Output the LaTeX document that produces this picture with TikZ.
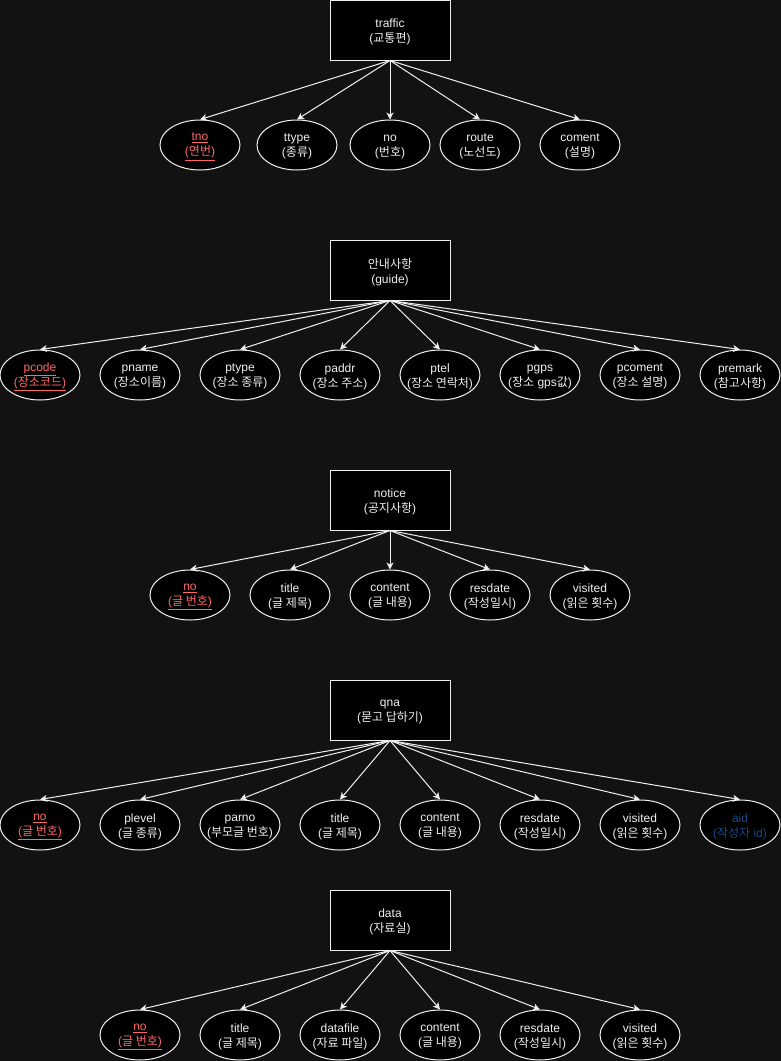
\documentclass[tikz,border=0pt]{standalone}
\usepackage{fontspec}
\setmainfont{Liberation Sans}
\newfontfamily\kr{Noto Sans CJK KR}
\usetikzlibrary{shapes.geometric,arrows.meta}
\newcommand\kt[1]{{\kr #1}}
\definecolor{bgc}{RGB}{18,18,18}
\definecolor{fgc}{RGB}{240,240,240}
\definecolor{keyc}{RGB}{255,102,102}
\definecolor{idc}{RGB}{24,72,130}
\newcommand\keytxt[2]{\underline{#1}\\\underline{(\kt{#2})}}
\begin{document}
\begin{tikzpicture}[x=1pt,y=-1pt,
  every node/.style={font=\fontsize{12}{15}\selectfont, text=fgc},
  entity/.style={draw=fgc, fill=black, line width=1pt, minimum width=120pt, minimum height=60pt, inner sep=0pt},
  attr/.style={ellipse, draw=fgc, fill=black, line width=1pt, minimum width=80pt, minimum height=50pt, inner sep=0pt},
  atxt/.style={align=center, inner sep=0pt, yshift=-1.8pt},
  ktxt/.style={atxt, text=keyc},
  link/.style={draw=fgc, line width=1pt, -{Stealth[length=7pt,width=7pt,inset=2pt]}}]
\useasboundingbox (0,0) rectangle (781,1061);
\fill[bgc] (0,0) rectangle (781,1061);

% ---------- traffic ----------
\node[entity,label={[atxt]center:traffic\\(\kt{교통편})}] (traffic) at (390,30) {};
\node[attr,label={[ktxt]center:\keytxt{tno}{연번}}] (t1) at (200,145) {};
\node[attr,label={[atxt]center:ttype\\(\kt{종류})}] (t2) at (297,145) {};
\node[attr,label={[atxt]center:no\\(\kt{번호})}] (t3) at (390,145) {};
\node[attr,label={[atxt]center:route\\(\kt{노선도})}] (t4) at (480,145) {};
\node[attr,label={[atxt]center:coment\\(\kt{설명})}] (t5) at (580,145) {};
\foreach \a in {t1,t2,t3,t4,t5} \draw[link] (traffic.south) -- (\a.north);

% ---------- guide ----------
\node[entity,label={[atxt]center:\kt{안내사항}\\(guide)}] (guide) at (390,270) {};
\node[attr,label={[ktxt]center:\keytxt{pcode}{장소코드}}] (g1) at (40,375) {};
\node[attr,label={[atxt]center:pname\\(\kt{장소이름})}] (g2) at (140,375) {};
\node[attr,label={[atxt]center:ptype\\(\kt{장소 종류})}] (g3) at (240,375) {};
\node[attr,label={[atxt]center:paddr\\(\kt{장소 주소})}] (g4) at (340,375) {};
\node[attr,label={[atxt]center:ptel\\(\kt{장소 연락처})}] (g5) at (440,375) {};
\node[attr,label={[atxt]center:pgps\\(\kt{장소} gps\kt{값})}] (g6) at (540,375) {};
\node[attr,label={[atxt]center:pcoment\\(\kt{장소 설명})}] (g7) at (640,375) {};
\node[attr,label={[atxt]center:premark\\(\kt{참고사항})}] (g8) at (740,375) {};
\foreach \a in {g1,g2,g3,g4,g5,g6,g7,g8} \draw[link] (guide.south) -- (\a.north);

% ---------- notice ----------
\node[entity,label={[atxt]center:notice\\(\kt{공지사항})}] (notice) at (390,500) {};
\node[attr,label={[ktxt]center:\keytxt{no}{글 번호}}] (n1) at (190,595) {};
\node[attr,label={[atxt]center:title\\(\kt{글 제목})}] (n2) at (290,595) {};
\node[attr,label={[atxt]center:content\\(\kt{글 내용})}] (n3) at (390,595) {};
\node[attr,label={[atxt]center:resdate\\(\kt{작성일시})}] (n4) at (490,595) {};
\node[attr,label={[atxt]center:visited\\(\kt{읽은 횟수})}] (n5) at (590,595) {};
\foreach \a in {n1,n2,n3,n4,n5} \draw[link] (notice.south) -- (\a.north);

% ---------- qna ----------
\node[entity,label={[atxt]center:qna\\(\kt{묻고 답하기})}] (qna) at (390,710) {};
\node[attr,label={[ktxt]center:\keytxt{no}{글 번호}}] (q1) at (40,825) {};
\node[attr,label={[atxt]center:plevel\\(\kt{글 종류})}] (q2) at (140,825) {};
\node[attr,label={[atxt]center:parno\\(\kt{부모글 번호})}] (q3) at (240,825) {};
\node[attr,label={[atxt]center:title\\(\kt{글 제목})}] (q4) at (340,825) {};
\node[attr,label={[atxt]center:content\\(\kt{글 내용})}] (q5) at (440,825) {};
\node[attr,label={[atxt]center:resdate\\(\kt{작성일시})}] (q6) at (540,825) {};
\node[attr,label={[atxt]center:visited\\(\kt{읽은 횟수})}] (q7) at (640,825) {};
\node[attr,label={[atxt,text=idc]center:aid\\(\kt{작성자} id)}] (q8) at (740,825) {};
\foreach \a in {q1,q2,q3,q4,q5,q6,q7,q8} \draw[link] (qna.south) -- (\a.north);

% ---------- data ----------
\node[entity,label={[atxt]center:data\\(\kt{자료실})}] (data) at (390,920) {};
\node[attr,label={[ktxt]center:\keytxt{no}{글 번호}}] (d1) at (140,1035) {};
\node[attr,label={[atxt]center:title\\(\kt{글 제목})}] (d2) at (240,1035) {};
\node[attr,label={[atxt]center:datafile\\(\kt{자료 파일})}] (d3) at (340,1035) {};
\node[attr,label={[atxt]center:content\\(\kt{글 내용})}] (d4) at (440,1035) {};
\node[attr,label={[atxt]center:resdate\\(\kt{작성일시})}] (d5) at (540,1035) {};
\node[attr,label={[atxt]center:visited\\(\kt{읽은 횟수})}] (d6) at (640,1035) {};
\foreach \a in {d1,d2,d3,d4,d5,d6} \draw[link] (data.south) -- (\a.north);
\end{tikzpicture}
\end{document}
